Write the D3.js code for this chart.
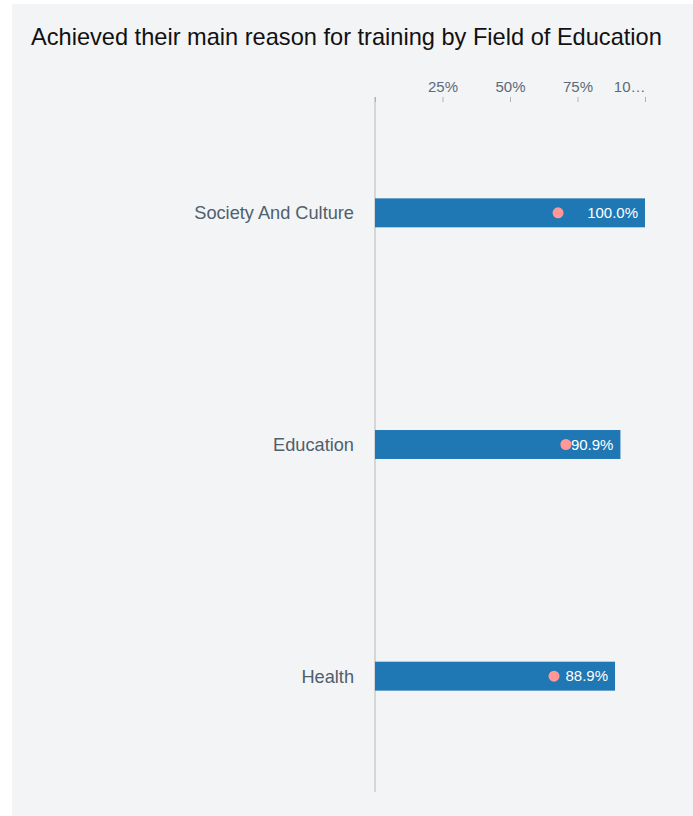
<!DOCTYPE html>
<html>
<head>
<meta charset="utf-8">
<script src="https://cdn.jsdelivr.net/npm/d3@7"></script>
<style>
  body { margin: 0; background: #fff; font-family: "Liberation Sans", Arial, sans-serif; }
</style>
</head>
<body>
<div id="chart"></div>
<script>
const categories = ["Society And Culture", "Education", "Health"];
const achieved = [100.0, 90.9, 88.9];
const average = [67.8, 70.7, 66.3];
const tickValues = [0, 25, 50, 75, 100];

const width = 693;
const height = 816;

const svg = d3.select("#chart").append("svg")
    .attr("width", width)
    .attr("height", height)
    .style("display", "block");

// panel background
svg.append("rect")
    .attr("x", 12).attr("y", 4)
    .attr("width", width - 12).attr("height", height - 4)
    .attr("fill", "#f3f4f6");

svg.append("text")
    .attr("x", 31).attr("y", 45)
    .attr("font-size", 23.6)
    .attr("fill", "#111")
    .text("Achieved their main reason for training by Field of Education");

const x = d3.scaleLinear().domain([0, 100]).range([375, 645]);
const y = d3.scaleBand().domain(categories).range([97, 792]).paddingInner(0.875).paddingOuter(0.4375);

// axis line
svg.append("line")
    .attr("x1", x(0)).attr("x2", x(0))
    .attr("y1", 97).attr("y2", 792)
    .attr("stroke", "#cccccc").attr("stroke-width", 1.5);

const axis = svg.append("g")
    .attr("transform", "translate(0,102)")
    .call(d3.axisTop(x).tickValues(tickValues).tickSize(5).tickSizeOuter(0)
        .tickFormat(d => d === 0 ? "" : d === 100 ? "10\u2026" : d + "%"));
axis.select(".domain").remove();
axis.selectAll(".tick line").attr("stroke", "#aab3bb");
axis.selectAll(".tick text")
    .attr("font-size", 15)
    .attr("font-family", "Liberation Sans, Arial, sans-serif")
    .attr("fill", "#5b6b78")
    .attr("dy", "-0.15em")
    .attr("text-anchor", d => d === 100 ? "end" : "middle");

const rows = svg.append("g").selectAll("g")
    .data(categories)
    .enter().append("g");

rows.append("rect")
    .attr("x", x(0))
    .attr("y", d => y(d))
    .attr("width", (d, i) => x(achieved[i]) - x(0))
    .attr("height", y.bandwidth())
    .attr("fill", "#1f77b4");

rows.append("circle")
    .attr("cx", (d, i) => x(average[i]))
    .attr("cy", d => y(d) + y.bandwidth() / 2)
    .attr("r", 5.5)
    .attr("fill", "#ff9896");

rows.append("text")
    .attr("x", (d, i) => x(achieved[i]) - 7)
    .attr("y", d => y(d) + y.bandwidth() / 2)
    .attr("dy", "0.35em")
    .attr("text-anchor", "end")
    .attr("font-size", 15)
    .attr("fill", "#ffffff")
    .text((d, i) => achieved[i].toFixed(1) + "%");

rows.append("text")
    .attr("x", 354)
    .attr("y", d => y(d) + y.bandwidth() / 2)
    .attr("dy", "0.35em")
    .attr("text-anchor", "end")
    .attr("font-size", 18.2)
    .attr("fill", "#4f5f6c")
    .text(d => d);
</script>
</body>
</html>
